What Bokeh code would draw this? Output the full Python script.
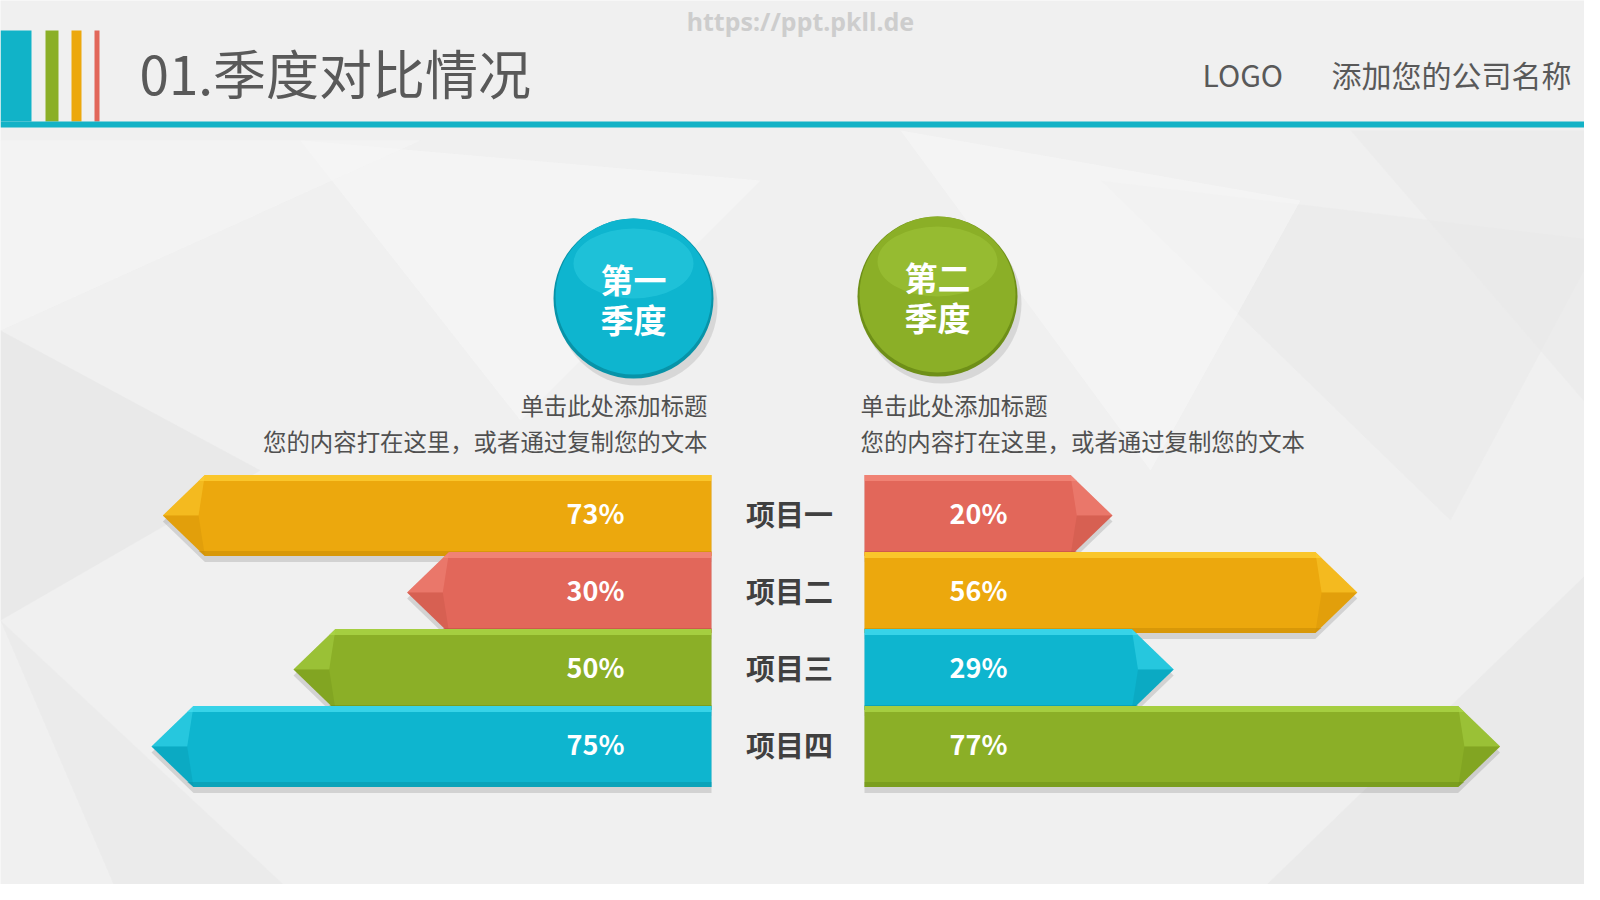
from bokeh.plotting import figure
from bokeh.models import Range1d
from bokeh.core.properties import value
from bokeh.embed import file_html
from bokeh.resources import INLINE

# ---------------- data ----------------
categories = ["项目一", "项目二", "项目三", "项目四"]
q1_values = [73, 30, 50, 75]
q2_values = [20, 56, 29, 77]
quarter_names = ["第一季度", "第二季度"]
subtitle = "单击此处添加标题"
body_text = "您的内容打在这里，或者通过复制您的文本"
page_title = "01.季度对比情况"
logo_text = "LOGO"
company_text = "添加您的公司名称"
watermark = "https://ppt.pkll.de"

# ---------------- style ----------------
ORANGE = "#ECA80D"
RED = "#E2675A"
GREEN = "#8BAF27"
CYAN = "#0EB5CF"
LIGHT = {ORANGE: "#FFD035", RED: "#F48B7E", GREEN: "#AED84A", CYAN: "#45DDF0"}
DARK = {ORANGE: "#C98A05", RED: "#BE4E43", GREEN: "#6E8F18", CYAN: "#0893A8"}
q1_colors = [ORANGE, RED, GREEN, CYAN]
q2_colors = [RED, ORANGE, CYAN, GREEN]
TEXT_GRAY = "#595959"
CJK = value("Noto Sans CJK SC")

W, H = 1584, 884
# scale of each side: pixels per percentage point, stub length (px) before value 0
L_PX, L_STUB_PX = 5.68, 134
R_PX, R_STUB_PX = 6.8, 112
ARROW_PX = 42
LEFT_BASE = 711
RIGHT_BASE = 864
ROW0 = 515
ROW_STEP = 77
BAR_H = 81

p = figure(width=W, height=H, x_range=Range1d(0, W), y_range=Range1d(H, 0),
           output_backend="svg", toolbar_location=None, min_border=0,
           x_axis_location=None, y_axis_location=None,
           background_fill_color="#F0F0F0", border_fill_color="#F0F0F0",
           outline_line_color=None)
p.grid.visible = False

# value scales for the two bar groups (value 0 sits one stub away from the base line)
r_zero = RIGHT_BASE + R_STUB_PX
l_zero = LEFT_BASE - L_STUB_PX
p.extra_x_ranges = {"q2": Range1d(-r_zero / R_PX, (W - r_zero) / R_PX),
                    "q1": Range1d(l_zero / L_PX, (l_zero - W) / L_PX)}
SIDE = {"q1": (-L_STUB_PX / L_PX, ARROW_PX / L_PX), "q2": (-R_STUB_PX / R_PX, ARROW_PX / R_PX)}

# ---------------- faint low-poly background ----------------
bg_xs = [[0, 260, 0], [0, 300, 120], [1250, 1600, 1600], [1100, 1600, 1450],
         [300, 760, 520], [900, 1300, 1150], [0, 420, 0], [1350, 1600, 1600]]
bg_ys = [[330, 470, 620], [620, 900, 900], [900, 560, 900], [180, 240, 520],
         [140, 180, 420], [130, 200, 470], [140, 140, 330], [130, 130, 420]]
bg_cols = ["#E4E4E4", "#E8E8E8", "#E6E6E6", "#EAEAEA", "#F8F8F8", "#F7F7F7", "#F6F6F6", "#E9E9E9"]
p.patches(bg_xs, bg_ys, fill_color=bg_cols, fill_alpha=0.55, line_color=None)

# ---------------- header ----------------
p.quad(left=[0], right=[31], top=[30], bottom=[121], fill_color="#11B3C8", line_color=None)
p.quad(left=[45, 71, 94], right=[58, 81, 99], top=[30] * 3, bottom=[121] * 3,
       fill_color=["#8BAF27", "#ECA80D", "#E2675A"], line_color=None)
p.quad(left=[0], right=[1600], top=[121], bottom=[127], fill_color="#13B2C6", line_color=None)
p.text([139], [71], text=[page_title], text_font=CJK, text_font_size="53px",
       text_color=TEXT_GRAY, text_baseline="middle", text_align="left")
p.text([1202], [73], text=[logo_text], text_font=CJK, text_font_size="30px",
       text_color=TEXT_GRAY, text_baseline="middle", text_align="left")
p.text([1571], [73], text=[company_text], text_font=CJK, text_font_size="30px",
       text_color=TEXT_GRAY, text_baseline="middle", text_align="right")
p.text([800], [20], text=[watermark], text_font=value("Noto Sans"), text_font_size="25px",
       text_font_style="bold", text_color="#CDCDCD", text_baseline="middle", text_align="center")

# ---------------- quarter circles ----------------
circ_x = [633, 937]
circ_y = [298, 296]
circ_col = [CYAN, GREEN]
p.circle([x + 4 for x in circ_x], [y + 7 for y in circ_y], radius=80, fill_color="#000000",
         fill_alpha=0.10, line_color=None)
p.circle(circ_x, circ_y, radius=80, fill_color=[DARK[c] for c in circ_col], line_color=None)
p.circle(circ_x, [y - 2 for y in circ_y], radius=78, fill_color=circ_col, line_color=None)
p.ellipse(circ_x, [y - 35 for y in circ_y], width=120, height=70,
          fill_color=[LIGHT[c] for c in circ_col], fill_alpha=0.3, line_color=None)
for cx, cy, name in zip(circ_x, circ_y, quarter_names):
    p.text([cx, cx], [cy - 20, cy + 20], text=[name[:2], name[2:]], text_font=CJK,
           text_font_size="33px", text_font_style="bold", text_color="white",
           text_baseline="middle", text_align="center")

# descriptive texts
p.text([707, 707], [404, 440], text=[subtitle, body_text], text_font=CJK, text_font_size="23.4px",
       text_color="#505050", text_baseline="middle", text_align="right")
p.text([860, 860], [404, 440], text=[subtitle, body_text], text_font=CJK, text_font_size="23.4px",
       text_color="#505050", text_baseline="middle", text_align="left")


# ---------------- arrow bars ----------------
def draw_bars(values, colors, rng):
    base, arrow = SIDE[rng]
    d = arrow * 0.15
    xs, ys, sys_ = [], [], []
    for i, v in enumerate(values):
        mid = ROW0 + i * ROW_STEP
        top, bot = mid - BAR_H / 2, mid + BAR_H / 2
        xs.append([base, v - arrow, v, v - arrow, base])
        ys.append([top, top, mid, bot, bot])
        sys_.append([top + 6, top + 6, mid + 6, bot + 6, bot + 6])
    p.patches(xs, sys_, fill_color="#000000", fill_alpha=0.12, line_color=None, x_range_name=rng)
    for i, v in enumerate(values):
        mid = ROW0 + i * ROW_STEP
        top, bot = mid - BAR_H / 2, mid + BAR_H / 2
        c = colors[i]
        p.patch(xs[i], ys[i], fill_color=c, line_color=None, x_range_name=rng)
        # top highlight and bottom shade
        p.patch([base, v - arrow, v - arrow + d, base], [top, top, top + 6, top + 6],
                fill_color=LIGHT[c], fill_alpha=0.75, line_color=None, x_range_name=rng)
        p.patch([base, v - arrow + d, v - arrow, base], [bot - 5, bot - 5, bot, bot],
                fill_color=DARK[c], fill_alpha=0.55, line_color=None, x_range_name=rng)
        # tip facets
        p.patch([v - arrow, v, v - arrow + d], [top, mid, mid], fill_color=LIGHT[c],
                fill_alpha=0.45, line_color=None, x_range_name=rng)
        p.patch([v - arrow + d, v, v - arrow], [mid, mid, bot], fill_color=DARK[c],
                fill_alpha=0.3, line_color=None, x_range_name=rng)


draw_bars(q1_values, q1_colors, "q1")
draw_bars(q2_values, q2_colors, "q2")

rows = [ROW0 + i * ROW_STEP - 3 for i in range(len(categories))]
p.text([595] * 4, rows, text=[f"{v}%" for v in q1_values], text_font=CJK, text_font_size="27px",
       text_font_style="bold", text_color="white", text_baseline="middle", text_align="center")
p.text([978] * 4, rows, text=[f"{v}%" for v in q2_values], text_font=CJK, text_font_size="27px",
       text_font_style="bold", text_color="white", text_baseline="middle", text_align="center")
p.text([789] * 4, rows, text=categories, text_font=CJK, text_font_size="29px",
       text_font_style="bold", text_color="#404040", text_baseline="middle", text_align="center")

open("out.html", "w").write(file_html(p, INLINE))
